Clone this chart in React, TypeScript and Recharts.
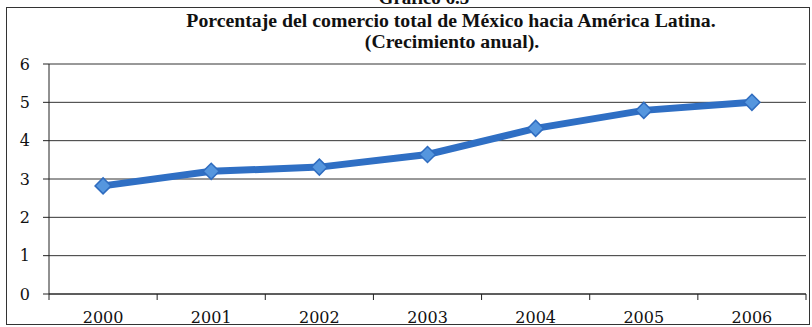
import React from 'react';
import { LineChart, Line, XAxis, YAxis, CartesianGrid } from 'recharts';

const years = ['2000', '2001', '2002', '2003', '2004', '2005', '2006'];
const values = [2.82, 3.2, 3.31, 3.64, 4.32, 4.79, 5.0];
const yTicks = [0, 1, 2, 3, 4, 5, 6];
const titleLine1 = 'Porcentaje del comercio total de México hacia América Latina.';
const titleLine2 = '(Crecimiento anual).';
const topCaption = 'Gráfico 6.5';

const data = years.map((y, i) => ({ year: y, value: values[i] }));

const W = 812;
const H = 327;
const YW = 49;
const XH = 33;
const M = { top: 64, right: 6, bottom: 0, left: 0 };
const BW = (W - YW - M.right) / years.length;
const PAD = BW / 2;
const FONT = '"DejaVu Serif", "Liberation Serif", serif';
const TFONT = '"Liberation Serif", "DejaVu Serif", serif';

const XTick = (props: any) => {
  const { x, y, payload, index } = props;
  const lines = [
    <line key="l" x1={x - BW / 2} x2={x - BW / 2} y1={y - 6} y2={y} stroke="#222" strokeWidth={1} />,
  ];
  if (index === years.length - 1) {
    lines.push(
      <line key="r" x1={x + BW / 2} x2={x + BW / 2} y1={y - 6} y2={y} stroke="#222" strokeWidth={1} />
    );
  }
  return (
    <g>
      {lines}
      <text x={x} y={y} dy={23} textAnchor="middle" fontFamily={FONT} fontSize={16} fill="#111">
        {payload.value}
      </text>
    </g>
  );
};

const Diamond = (props: any) => {
  const { cx, cy } = props;
  const r = 8;
  return (
    <path
      d={`M${cx},${cy - r} L${cx + r},${cy} L${cx},${cy + r} L${cx - r},${cy} Z`}
      fill="#5596de"
      stroke="#2f6cbf"
      strokeWidth={1.5}
    />
  );
};

export default function App() {
  return (
    <div style={{ position: 'absolute', left: 0, top: 0, width: W, height: H, background: '#fff', overflow: 'hidden' }}>
      <div
        style={{
          position: 'absolute',
          left: 6,
          top: 7,
          width: 804,
          height: 318,
          border: '1.5px solid #333',
          boxSizing: 'border-box',
        }}
      />
      <svg width={W} height={60} style={{ position: 'absolute', left: 0, top: 0 }}>
        <text x={424} y={4} textAnchor="middle" fontFamily={TFONT} fontWeight="bold" fontSize={19} fill="#111">
          {topCaption}
        </text>
        <text x={451} y={27} textAnchor="middle" fontFamily={TFONT} fontWeight="bold" fontSize={19.8} fill="#111">
          {titleLine1}
        </text>
        <text x={452} y={48} textAnchor="middle" fontFamily={TFONT} fontWeight="bold" fontSize={19.8} fill="#111">
          {titleLine2}
        </text>
      </svg>
      <div style={{ position: 'absolute', left: 0, top: 0 }}>
        <LineChart width={W} height={H} data={data} margin={M}>
          <CartesianGrid horizontal vertical={false} stroke="#333" strokeWidth={1} />
          <XAxis
            dataKey="year"
            axisLine={{ stroke: '#222' }}
            tickLine={false}
            tickSize={6}
            tickMargin={0}
            interval={0}
            padding={{ left: PAD, right: PAD }}
            tick={<XTick />}
            height={XH}
          />
          <YAxis
            domain={[0, 6]}
            ticks={yTicks}
            interval={0}
            axisLine={{ stroke: '#222' }}
            tickLine={{ stroke: '#222' }}
            tickSize={6}
            tickMargin={13}
            width={YW}
            tick={{ fontFamily: FONT, fontSize: 16, fill: '#111' }}
          />
          <Line
            type="linear"
            dataKey="value"
            stroke="#2f6fc4"
            strokeWidth={7}
            dot={<Diamond />}
            activeDot={false}
            isAnimationActive={false}
          />
        </LineChart>
      </div>
    </div>
  );
}
